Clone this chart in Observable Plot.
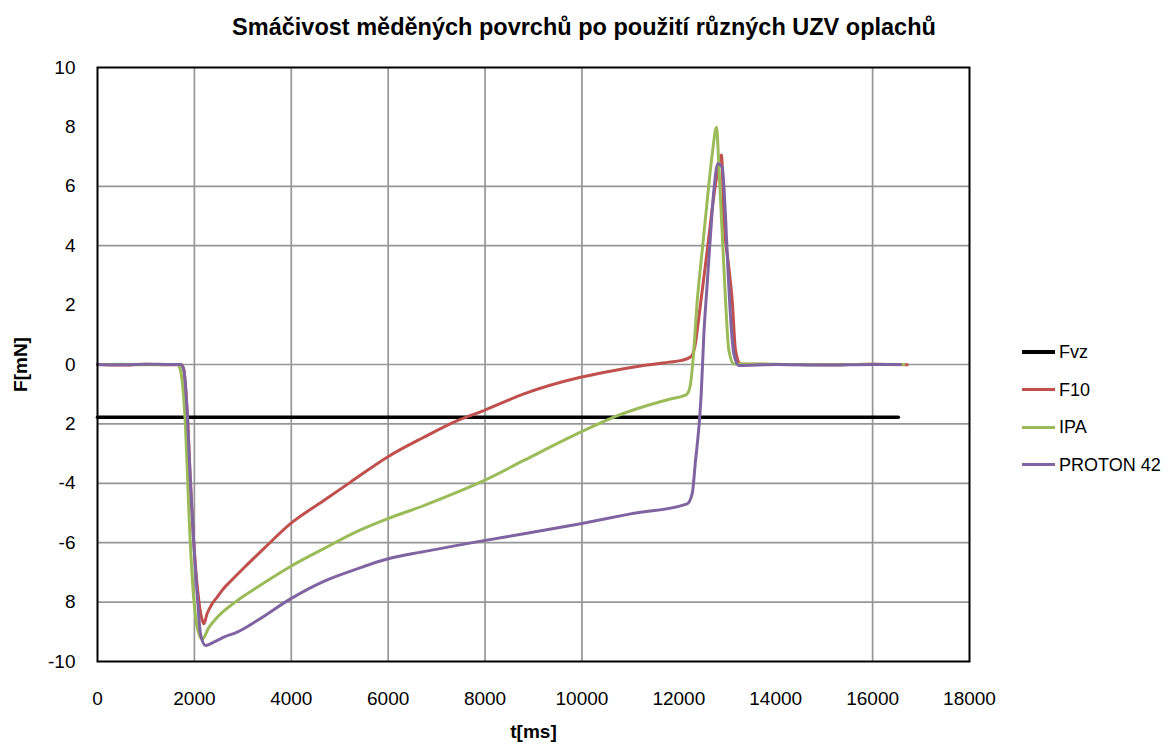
<!DOCTYPE html>
<html>
<head>
<meta charset="utf-8">
<script src="https://cdn.jsdelivr.net/npm/d3@7"></script>
<script src="https://cdn.jsdelivr.net/npm/@observablehq/plot@0.6"></script>
<style>
  html, body { margin: 0; padding: 0; background: #fff; }
  #wrap { position: relative; width: 1168px; height: 746px; font-family: "Liberation Sans", Arial, sans-serif; }
  #title { position: absolute; left: 0; width: 1168px; top: 14px; text-align: center; font-weight: bold; font-size: 23.5px; color: #000; }
  #chart { position: absolute; left: 0; top: 0; }
  #legend { position: absolute; left: 1022px; top: 338px; font-size: 18px; color: #000; }
  .item { position: relative; height: 37.5px; }
  .swatch { position: absolute; left: 0; width: 33px; }
  .lab { position: absolute; left: 37px; top: 0; line-height: 28px; white-space: nowrap; }
  g[aria-label="x-axis label"] text, g[aria-label="y-axis label"] text { font-weight: bold; }
</style>
</head>
<body>
<div id="wrap">
  <div id="chart"></div>
  <div id="title"></div>
  <div id="legend"></div>
</div>
<script>
const titleText = "Smáčivost měděných povrchů po použití různých UZV oplachů";
const seriesNames = ["Fvz", "F10", "IPA", "PROTON 42"];
const seriesColors = ["#000000", "#C0504D", "#9BBB59", "#8064A2"];
const seriesWidths = [3.5, 3, 3, 3];

const xTicks = [0, 2000, 4000, 6000, 8000, 10000, 12000, 14000, 16000, 18000];
const xTickLabels = ["0", "2000", "4000", "6000", "8000", "10000", "12000", "14000", "16000", "18000"];
const yTicks = [-10, -8, -6, -4, -2, 0, 2, 4, 6, 8, 10];
const yTickLabels = ["-10", "8", "-6", "-4", "2", "0", "2", "4", "6", "8", "10"];
const gridX = [2000, 4000, 6000, 8000, 10000, 16000];
const gridY = [6, 4, 0, -2, -4, -6, -8];

const fvzT = [0, 16530];
const fvzV = [-1.78, -1.78];

const f10T = [0, 500, 1000, 1500, 1720, 1780, 1850, 1920, 2000, 2092, 2160, 2195, 2260, 2350, 2471, 2600, 2746, 3020, 3433, 3984, 4672, 5223, 5980, 6736, 7426, 7975, 8801, 9971, 10500, 11210, 11800, 12036, 12242, 12330, 12414, 12586, 12758, 12880, 12930, 13033, 13102, 13171, 13274, 14000, 15000, 16000, 16715];
const f10V = [0.0, -0.02, 0.01, -0.01, 0.0, -0.15, -1.55, -4.0, -6.3, -7.95, -8.6, -8.73, -8.4, -8.1, -7.83, -7.55, -7.3, -6.85, -6.2, -5.36, -4.58, -3.96, -3.12, -2.45, -1.89, -1.55, -0.99, -0.43, -0.25, -0.05, 0.08, 0.13, 0.25, 0.6, 1.59, 3.84, 6.08, 7.05, 4.96, 3.27, 2.15, 0.47, 0.02, 0.0, -0.01, 0.01, -0.01];

const ipaT = [0, 500, 1000, 1500, 1650, 1713, 1817, 1885, 1955, 2058, 2161, 2300, 2471, 2884, 3297, 3984, 4672, 5361, 5980, 6736, 7426, 7975, 8801, 9971, 10659, 11348, 11829, 12104, 12173, 12242, 12300, 12380, 12483, 12586, 12690, 12779, 12827, 12896, 12964, 13033, 13136, 14000, 15000, 16000, 16650];
const ipaV = [0.0, 0.01, -0.01, 0.0, 0.0, -0.2, -2.11, -4.92, -7.16, -8.85, -9.25, -8.85, -8.51, -7.95, -7.5, -6.8, -6.2, -5.62, -5.2, -4.75, -4.3, -3.91, -3.23, -2.28, -1.77, -1.38, -1.16, -1.05, -0.99, -0.65, 0.3, 2.15, 3.84, 5.52, 7.09, 7.99, 6.64, 4.4, 2.15, 0.47, 0.02, 0.01, -0.01, 0.01, 0.0];

const protonT = [0, 500, 1000, 1500, 1720, 1782, 1850, 1920, 1988, 2058, 2126, 2230, 2400, 2608, 2884, 3297, 3984, 4672, 5361, 5980, 6736, 7426, 7975, 8801, 9971, 11003, 12173, 12276, 12345, 12414, 12462, 12517, 12586, 12655, 12723, 12806, 12896, 12964, 13012, 13068, 13136, 13240, 14000, 15000, 16000, 16577];
const protonV = [0.0, -0.01, 0.01, 0.0, 0.0, -0.2, -1.55, -4.02, -6.04, -7.72, -9.07, -9.46, -9.35, -9.18, -9.01, -8.62, -7.89, -7.3, -6.88, -6.55, -6.3, -6.09, -5.93, -5.7, -5.36, -5.03, -4.69, -4.35, -3.23, -2.11, -0.99, 1.03, 2.72, 4.4, 5.86, 6.76, 6.64, 4.96, 3.27, 1.59, 0.36, -0.03, 0.0, -0.02, 0.0, 0.0];

const seriesT = [fvzT, f10T, ipaT, protonT];
const seriesV = [fvzV, f10V, ipaV, protonV];

const table = seriesNames.map((name, i) => seriesT[i].map((t, j) => ({series: name, t, v: seriesV[i][j]})));

document.getElementById("title").textContent = titleText;

const chart = Plot.plot({
  width: 1168,
  height: 746,
  marginLeft: 97,
  marginRight: 199,
  marginTop: 67,
  marginBottom: 85,
  style: {fontFamily: "Liberation Sans, Arial, sans-serif", fontSize: "19px", background: "#fff", color: "#000"},
  x: {domain: [0, 18000]},
  y: {domain: [-10, 10]},
  marks: [
    Plot.ruleX(gridX, {stroke: "#969696", strokeWidth: 1.7}),
    Plot.ruleY(gridY, {stroke: "#969696", strokeWidth: 1.7}),
    ...table.map((d, i) => Plot.line(d, {x: "t", y: "v", stroke: seriesColors[i], strokeWidth: seriesWidths[i], strokeLinejoin: "round", curve: "monotone-x"})),
    Plot.frame({stroke: "#000", strokeWidth: 2}),
    Plot.axisX(xTicks, {tickSize: 0, tickPadding: 30, tickFormat: (d) => xTickLabels[xTicks.indexOf(d)], label: "t[ms]", labelAnchor: "center", labelOffset: 76, labelArrow: "none", fill: "#000"}),
    Plot.axisY(yTicks, {tickSize: 0, tickPadding: 22, tickFormat: (d) => yTickLabels[yTicks.indexOf(d)], label: "F[mN]", labelAnchor: "center", labelOffset: 84, labelArrow: "none", fill: "#000"})
  ]
});
document.getElementById("chart").appendChild(chart);

const legend = document.getElementById("legend");
seriesNames.forEach((name, i) => {
  const item = document.createElement("div");
  item.className = "item";
  const sw = document.createElement("div");
  sw.className = "swatch";
  sw.style.background = seriesColors[i];
  sw.style.height = seriesWidths[i] + "px";
  sw.style.top = (14 - seriesWidths[i] / 2) + "px";
  const lab = document.createElement("div");
  lab.className = "lab";
  lab.textContent = name;
  item.appendChild(sw);
  item.appendChild(lab);
  legend.appendChild(item);
});
</script>
</body>
</html>
